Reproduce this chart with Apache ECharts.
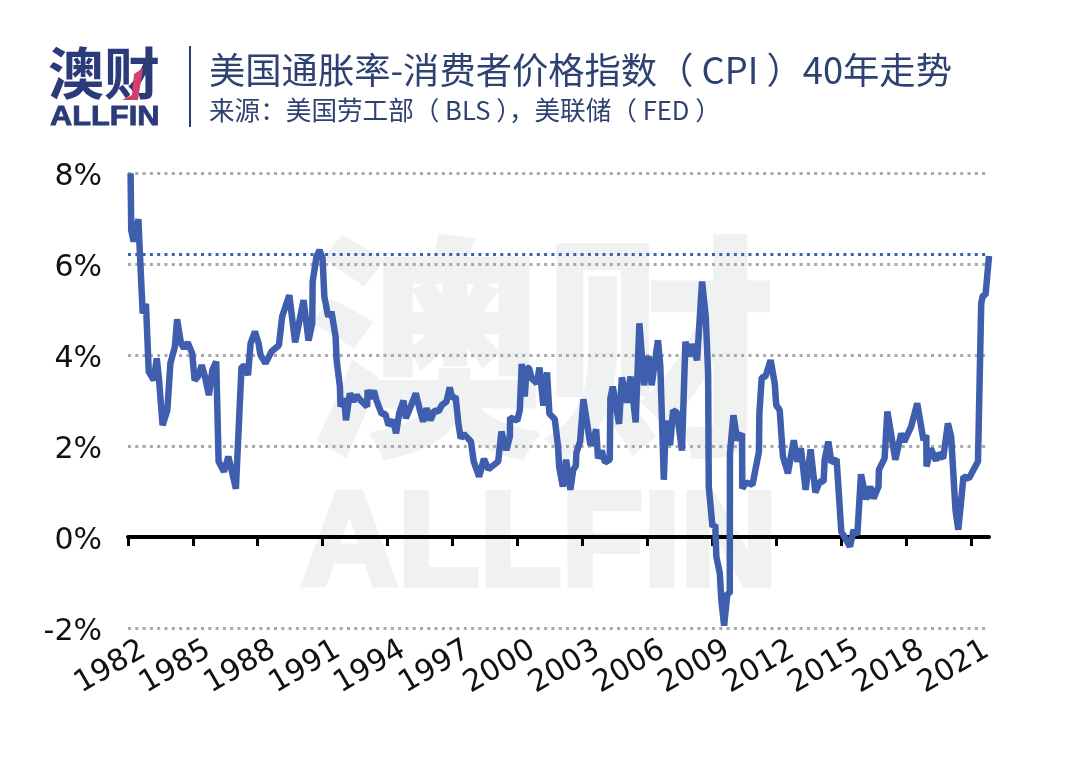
<!DOCTYPE html>
<html>
<head>
<meta charset="utf-8">
<style>html,body{margin:0;padding:0;background:#fff}#main{width:1080px;height:767px}</style>
<script src="https://cdn.jsdelivr.net/npm/echarts@6/dist/echarts.min.js"></script>
</head>
<body>
<div id="main"></div>
<script>
// years after Jan 1982 at each bend of the line
var yearsSince1982 = [
  0.12,0.15,0.26,0.37,0.48,0.55,0.68,0.83,0.96,1.19,1.33,1.43,1.60,1.82,1.96,2.17,2.27,2.45,2.59,2.76,
  2.97,3.08,3.24,3.41,3.56,3.74,3.90,4.08,4.19,4.44,4.64,4.79,4.99,5.25,5.41,5.55,5.67,5.87,6.04,6.13,
  6.36,6.64,6.98,7.13,7.46,7.73,8.12,8.35,8.52,8.54,8.72,8.86,9.00,9.08,9.26,9.41,9.60,9.65,9.80,9.83,
  10.00,10.08,10.26,10.42,10.57,10.75,11.06,11.08,11.22,11.37,11.49,11.73,11.90,12.05,12.26,12.40,12.54,12.74,12.85,13.04,
  13.31,13.50,13.65,13.81,13.99,14.18,14.36,14.51,14.73,14.88,14.99,15.15,15.28,15.39,15.53,15.86,15.99,16.24,16.46,16.67,
  17.12,17.27,17.50,17.66,17.67,18.00,18.12,18.21,18.35,18.44,18.55,18.67,18.91,19.03,19.21,19.38,19.49,19.74,19.89,19.94,
  20.11,20.26,20.46,20.59,20.71,20.74,20.91,21.06,21.39,21.51,21.65,21.74,21.91,22.06,22.28,22.31,22.42,22.71,22.84,23.08,
  23.24,23.48,23.65,23.87,24.07,24.22,24.51,24.62,24.78,24.88,25.07,25.21,25.39,25.62,25.78,25.92,26.07,26.32,26.55,26.72,
  26.83,26.86,27.03,27.16,27.21,27.37,27.44,27.57,27.72,27.83,27.84,28.00,28.18,28.40,28.41,28.60,28.88,29.18,29.20,29.31,
  29.48,29.72,29.91,29.98,30.14,30.29,30.52,30.79,30.96,31.12,31.34,31.57,31.79,31.99,32.17,32.22,32.39,32.53,32.77,32.99,
  33.17,33.39,33.56,33.73,33.90,34.14,34.33,34.48,34.71,34.73,34.99,35.12,35.49,35.76,35.90,36.22,36.50,36.79,36.92,36.93,
  37.13,37.37,37.47,37.70,37.92,38.07,38.27,38.40,38.64,38.89,39.31,39.46,39.54,39.66,39.82
];
var cpiValues = [
  8.00,6.75,6.50,6.79,6.99,6.24,4.92,5.13,3.64,3.45,3.93,3.49,2.46,2.79,3.82,4.19,4.79,4.26,4.15,4.28,
  4.04,3.45,3.53,3.78,3.53,3.12,3.67,3.86,1.66,1.44,1.77,1.48,1.06,3.75,3.75,3.56,4.26,4.52,4.26,4.00,
  3.82,4.08,4.22,4.85,5.32,4.28,5.21,4.32,4.70,5.62,6.17,6.31,6.13,5.29,4.85,4.96,4.41,3.89,3.31,2.87,
  3.05,2.57,3.16,2.98,3.12,3.01,2.87,3.23,3.05,3.22,3.01,2.71,2.71,2.46,2.57,2.28,2.72,3.00,2.61,2.83,
  3.16,2.79,2.54,2.83,2.57,2.79,2.76,2.90,2.98,3.29,3.05,3.09,2.50,2.17,2.27,2.10,1.66,1.33,1.72,1.49,
  1.66,2.32,1.91,2.21,2.63,2.56,2.79,3.81,3.09,3.73,3.71,3.49,3.38,3.73,2.89,3.62,2.71,2.59,1.99,1.55,
  1.11,1.70,1.04,1.48,1.56,1.86,2.10,3.03,2.02,2.10,2.37,1.73,1.90,1.64,1.70,3.05,3.31,2.49,3.51,2.96,
  3.53,2.52,4.70,3.34,3.98,3.34,4.33,3.75,1.26,2.56,2.02,2.79,2.74,1.90,4.30,3.97,4.24,3.89,5.62,4.85,
  3.60,1.11,0.23,0.27,-0.43,-0.80,-1.38,-1.95,-1.24,-1.24,1.84,2.68,2.13,2.28,1.07,1.20,1.15,1.88,2.72,3.51,
  3.53,3.89,3.38,2.90,2.79,1.77,1.40,2.13,1.66,1.95,1.04,1.93,0.98,1.22,1.22,1.70,2.10,1.64,1.71,0.12,
  -0.03,-0.21,0.16,0.05,1.38,0.83,1.11,0.85,1.11,1.48,1.73,2.76,1.70,2.28,2.10,2.43,2.94,2.13,2.24,1.55,
  1.95,1.68,1.84,1.73,2.50,2.21,0.60,0.16,1.33,1.29,1.66,5.14,5.32,5.32,6.18
];
var tickYears = [0,3,6,9,12,15,18,21,24,27,30,33,36,39];
var yTicks = [-2,0,2,4,6,8];
var latestCpi = 6.23;

var titleText = "美国通胀率-消费者价格指数（ CPI ）40年走势";
var sourceText = "来源：美国劳工部（ BLS ），美联储（ FED ）";

var chartDom = document.getElementById("main");
var myChart = echarts.init(chartDom);
var navy = "#2b3a78";
var cjk = '"Noto Sans CJK SC"';

var lineData = yearsSince1982.map(function (y, i) {
  return [y, cpiValues[i]];
});

var option = {
  backgroundColor: "#fff",
  animation: false,
  grid: { left: 128, right: 91, top: 173.3, bottom: 139, containLabel: false, outerBoundsMode: "none" },
  xAxis: {
    type: "value",
    min: 0,
    max: 39.82,
    interval: 3,
    splitLine: { show: false },
    axisLine: { show: true, onZero: true, lineStyle: { color: "#000", width: 4 } },
    axisTick: {
      show: true,
      customValues: tickYears,
      length: 9,
      inside: false,
      lineStyle: { color: "#000", width: 3 }
    },
    axisLabel: {
      show: true,
      customValues: tickYears,
      rotate: 30,
      margin: 29,
      padding: [0, -18, 0, 0],
      fontFamily: '"DejaVu Sans"',
      fontSize: 30,
      color: "#111",
      formatter: function (v) {
        return String(1982 + v);
      }
    }
  },
  yAxis: {
    type: "value",
    min: yTicks[0],
    max: yTicks[yTicks.length - 1],
    interval: 2,
    axisLine: { show: false },
    axisTick: { show: false },
    axisLabel: {
      margin: 26,
      verticalAlign: "top",
      lineHeight: 8,
      fontFamily: '"DejaVu Sans"',
      fontSize: 30,
      color: "#111",
      formatter: "{value}%"
    },
    splitLine: {
      show: true,
      lineStyle: { color: "#a9a9a9", width: 3, type: [3, 4.3] }
    }
  },
  series: [
    {
      type: "line",
      data: lineData,
      symbol: "none",
      smooth: false,
      lineStyle: { color: "#3f5fae", width: 6.5 },
      markLine: {
        silent: true,
        symbol: "none",
        label: { show: false },
        lineStyle: { color: "#3f5fae", width: 3, type: [3, 4.3] },
        data: [{ yAxis: latestCpi }]
      }
    }
  ],
  graphic: [
    // watermark
    { type: "text", z: -10, left: 306, top: 228, style: { text: "澳财", font: "bold 234px " + cjk, fill: "#f0f2f2", stroke: "#f0f2f2", lineWidth: 5 } },
    { type: "text", z: -10, left: 298, top: 478, style: { text: "ALLFIN", font: 'bold 134px "Liberation Sans"', fill: "#f0f2f2", stroke: "#f0f2f2", lineWidth: 6 } },
    // logo
    { type: "text", left: 48, top: 45, style: { text: "澳财", font: "bold 56px " + cjk, fill: navy } },
    { type: "text", x: 50, y: 104, scaleX: 1.14, style: { text: "ALLFIN", font: 'bold 27px "Liberation Sans"', fill: navy, stroke: navy, lineWidth: 0.8 } },
    { type: "polygon", shape: { points: [[122, 100], [138, 100], [143, 68], [134, 74], [132, 95]] }, style: { fill: "#d43f6c" } },
    { type: "line", shape: { x1: 190, y1: 46, x2: 190, y2: 127 }, style: { stroke: navy, lineWidth: 2 } },
    // heading
    { type: "text", left: 209, top: 52, style: { text: titleText, font: "36.3px " + cjk, fill: "#2e4272" } },
    { type: "text", left: 209, top: 97, style: { text: sourceText, font: "25.6px " + cjk, fill: "#2e4272" } }
  ]
};

option && myChart.setOption(option);
</script>
</body>
</html>
